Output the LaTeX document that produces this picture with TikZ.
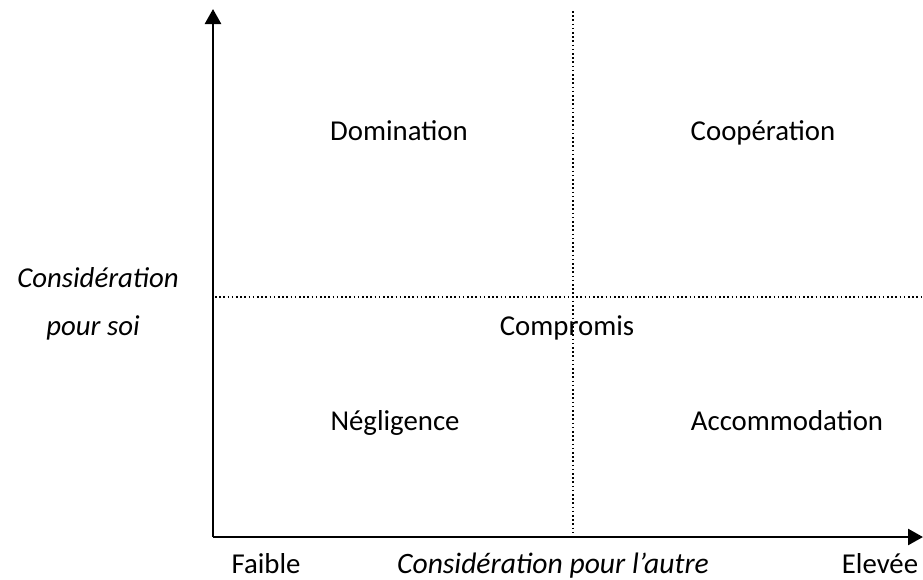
\documentclass[tikz,border=0pt]{standalone}
\usepackage{fontspec}
\setmainfont{Carlito}
\usetikzlibrary{arrows.meta}
\begin{document}
\begin{tikzpicture}[x=1pt,y=-1pt,
  axis/.style={line width=2.6pt,-{Triangle[length=15pt,width=16pt]}},
  guide/.style={line width=1.6pt,dash pattern=on 1.6pt off 2.6pt},
  lbl/.style={font=\fontsize{28.8}{34}\selectfont,inner sep=0pt,anchor=base},
  ilbl/.style={lbl,font=\fontsize{28.8}{34}\selectfont\itshape}]
\useasboundingbox (0,0) rectangle (923,579);
\coordinate (O) at (213,537);
\coordinate (ytop) at (213,9);
\coordinate (xend) at (923,537);
\coordinate (vtop) at (573,11);
\coordinate (vbot) at (573,537);
\coordinate (hl) at (215,297);
\coordinate (hr) at (923,297);
\draw[guide] (vtop) -- (vbot);
\draw[guide] (hl) -- (hr);
\draw[axis] (O) -- (ytop);
\draw[axis] (O) -- (xend);
\node[lbl] (dom) at (399,140) {Domination};
\node[lbl] (coop) at (763,140) {Coopération};
\node[lbl] (comp) at (567,335) {Compromis};
\node[lbl] (neg) at (395,430) {Négligence};
\node[lbl] (acc) at (787,430) {Accommodation};
\node[ilbl] (cs1) at (98,287) {Considération};
\node[ilbl] (cs2) at (93,335) {pour soi};
\node[lbl] (faible) at (266,573) {Faible};
\node[ilbl,font=\fontsize{29.6}{34}\selectfont\itshape] (cpa) at (553,573) {Considération pour l’autre};
\node[lbl] (elev) at (880,573) {Elevée};
\end{tikzpicture}
\end{document}
